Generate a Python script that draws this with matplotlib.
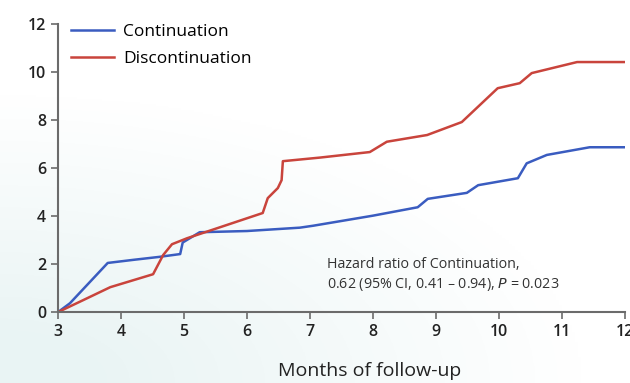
import numpy as np
import matplotlib
matplotlib.use('Agg')
import matplotlib.pyplot as plt

plt.rcParams['font.family'] = ['Open Sans', 'DejaVu Sans']

# cumulative incidence (%) by month of follow-up
cont_x = [3.0, 3.19, 3.79, 4.2, 4.6, 4.94, 4.98, 5.25, 6.0, 6.84, 7.05, 8.0, 8.71, 8.87, 9.49, 9.67, 10.3, 10.44, 10.76, 11.44, 12.0]
cont_y = [0.0, 0.37, 2.05, 2.18, 2.3, 2.42, 2.9, 3.33, 3.38, 3.52, 3.6, 4.02, 4.37, 4.72, 4.97, 5.29, 5.58, 6.2, 6.55, 6.87, 6.87]

disc_x = [3.0, 3.4, 3.83, 4.51, 4.67, 4.81, 5.05, 6.25, 6.33, 6.49, 6.55, 6.57, 7.16, 7.95, 8.22, 8.86, 9.41, 9.98, 10.33, 10.52, 11.24, 12.0]
disc_y = [0.0, 0.5, 1.04, 1.58, 2.38, 2.83, 3.08, 4.13, 4.75, 5.17, 5.5, 6.29, 6.44, 6.67, 7.1, 7.38, 7.92, 9.33, 9.54, 9.96, 10.42, 10.42]

xticks = list(range(3, 13))
yticks = list(range(0, 13, 2))

fig = plt.figure(figsize=(6.3, 3.83), dpi=100)

# faint teal haze in the lower-left corner of the slide
bg = fig.add_axes([0, 0, 1, 1], zorder=-10)
gx, gy = np.meshgrid(np.linspace(0, 1, 200), np.linspace(0, 1, 200))
haze = np.clip(1.2 - np.hypot(gx * 1.3, gy * 1.6), 0, 1)
rgb = np.ones((200, 200, 3))
tint = np.array([0.86, 0.93, 0.93])
rgb = rgb * (1 - haze[..., None] * 0.6) + tint * haze[..., None] * 0.6
bg.imshow(rgb, extent=[0, 1, 0, 1], origin='lower', aspect='auto')
bg.axis('off')

ax = fig.add_axes([0.092, 0.185, 0.9, 0.752])
ax.patch.set_alpha(0)

ax.plot(cont_x, cont_y, color='#3a5cc0', lw=1.8, label='Continuation')
ax.plot(disc_x, disc_y, color='#c9443c', lw=1.8, label='Discontinuation')

ax.set_xlim(3, 12)
ax.set_ylim(0, 12)
ax.set_xticks(xticks)
ax.set_yticks(yticks)
ax.tick_params(colors='#6b6b6b', labelcolor='#222222', labelsize=11.5, length=5, width=1.2)
for s in ['top', 'right']:
    ax.spines[s].set_visible(False)
for s in ['left', 'bottom']:
    ax.spines[s].set_color('#6b6b6b')
    ax.spines[s].set_linewidth(1.5)
for lab in ax.get_xticklabels() + ax.get_yticklabels():
    lab.set_fontweight('semibold')

ax.set_xlabel('Months of follow-up', fontsize=14, color='#222222', va='center')
ax.xaxis.set_label_coords(0.55, -0.205)

ax.legend(loc='upper left', bbox_to_anchor=(-0.005, 1.055), frameon=False, fontsize=12.5,
          handlelength=2.5, labelspacing=0.6, handletextpad=0.5)

ax.text(0.474, 0.065, 'Hazard ratio of Continuation,\n0.62 (95% CI, 0.41 \u2013 0.94), $\\it{P}$ = 0.023',
        transform=ax.transAxes, fontsize=10.3, color='#333333', va='bottom', linespacing=1.4)

fig.savefig('out.png', dpi=100)
